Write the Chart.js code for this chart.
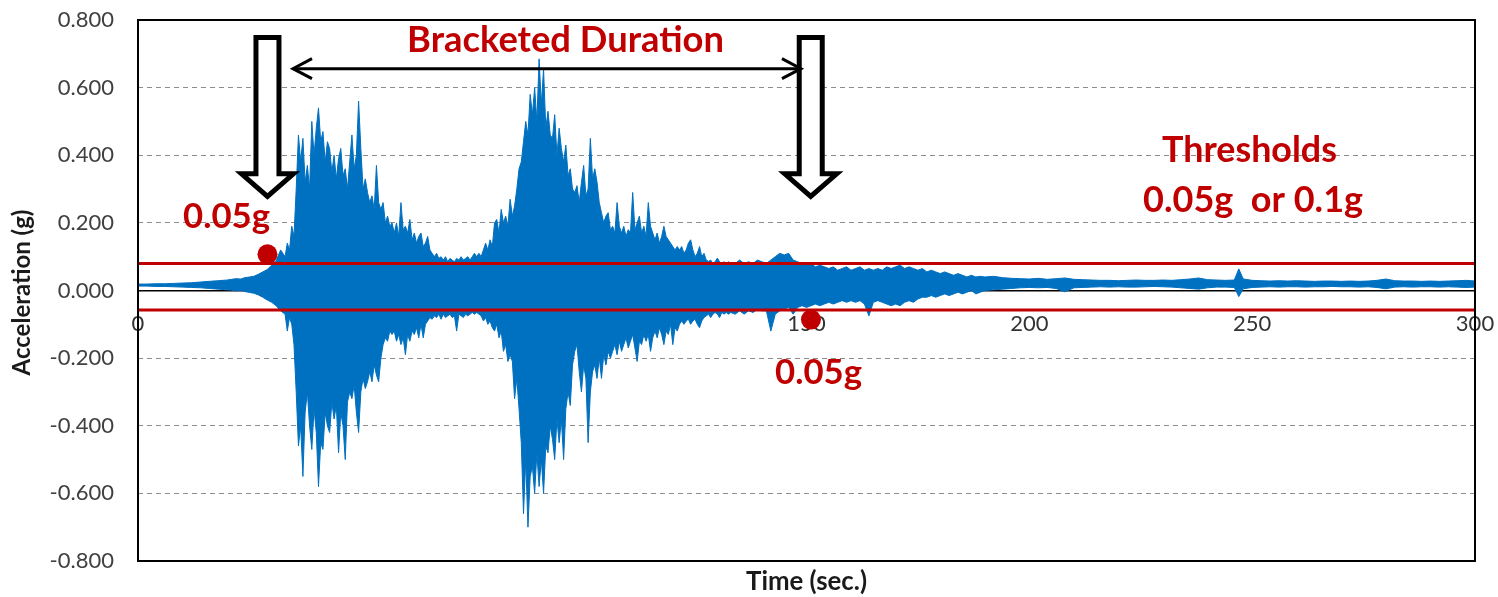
<!DOCTYPE html>
<html>
<head>
<meta charset="utf-8">
<script src="https://cdn.jsdelivr.net/npm/chart.js@4/dist/chart.umd.min.js"></script>
<style>
html,body{margin:0;padding:0;background:#fff;}
#wrap{width:1498px;height:597px;position:relative;}
</style>
</head>
<body>
<div id="wrap"><canvas id="c"></canvas></div>
<script>
// ---------- DATA ----------
// time (sec.) of each envelope sample
const time = [
  0,2,4,6,8,10,12,14,16,18,20,21,22,23,24,25,26,27,28,29,30,31,32,33,
  33.5,34,34.5,35,35.5,36,36.5,37,37.5,38,
  38.5,39,39.5,40,40.5,41,41.5,42,42.5,43,
  43.5,44,44.5,45,45.5,46,46.5,47,47.5,48,
  48.5,49,49.5,50,50.5,51,51.5,52,52.5,53,
  53.5,54,54.5,55,55.5,56,56.5,57,57.5,58,
  58.5,59,59.5,60,60.5,61,61.5,62,62.5,63,
  63.5,64,64.5,65,65.5,66,66.5,67,67.5,68,
  68.5,69,69.5,70,70.5,71,71.5,72,72.5,73,
  73.5,74,74.5,75,75.5,76,76.5,77,77.5,78,
  78.5,79,79.5,80,80.5,81,81.5,82,82.5,83,
  83.5,84,84.5,85,85.5,86,86.5,87,87.5,88,
  88.5,89,89.5,90,90.5,91,91.5,92,92.5,93,
  93.5,94,94.5,95,95.5,96,96.5,97,97.5,98,
  98.5,99,99.5,100,100.5,101,101.5,102,102.5,103,
  103.5,104,104.5,105,105.5,106,106.5,107,107.5,108,
  108.5,109,109.5,110,110.5,111,111.5,112,112.5,113,
  113.5,114,114.5,115,115.5,116,116.5,117,117.5,118,
  118.5,119,119.5,120,120.5,121,121.5,122,122.5,123,
  123.5,124,124.5,125,125.5,126,126.5,127,127.5,128,
  128.5,129,129.5,130,130.5,131,131.5,132,132.5,133,
  134,135,136,137,138,139,140,141,142,143,
  144,145,146,147,148,149,150,151,152,153,
  154,155,156,157,158,159,160,161,162,163,
  164,165,166,167,168,169,170,171,172,173,
  174,175,176,177,178,179,180,181,182,183,
  184,185,186,187,188,189,190,
  192,194,196,198,200,202,204,206,208,210,212,214,216,218,220,222,224,226,228,230,
  232,234,236,238,240,242,244,246,247,248,
  250,252,254,256,258,260,262,264,266,268,270,272,274,276,278,280,282,284,286,288,
  290,292,294,296,298,300
];
// upper envelope of the acceleration record (g)
const upper = [
  0.019,0.019,0.02,0.02,0.021,0.022,0.023,0.025,0.027,0.029,0.031,0.033,0.035,0.034,0.038,0.040,0.042,0.048,0.055,0.062,0.075,0.088,0.12,0.10,
  0.14,0.12,0.19,0.16,0.30,0.46,0.38,0.45,0.32,0.37,
  0.30,0.50,0.40,0.48,0.54,0.44,0.47,0.38,0.44,0.42,
  0.35,0.40,0.33,0.39,0.42,0.34,0.36,0.30,0.38,0.46,
  0.36,0.40,0.56,0.42,0.30,0.33,0.29,0.26,0.28,0.24,
  0.37,0.26,0.24,0.26,0.20,0.22,0.19,0.20,0.17,0.20,
  0.16,0.26,0.18,0.19,0.17,0.21,0.15,0.17,0.14,0.16,
  0.17,0.13,0.14,0.16,0.12,0.11,0.10,0.11,0.095,0.10,
  0.09,0.10,0.085,0.095,0.09,0.085,0.095,0.09,0.10,0.09,
  0.095,0.10,0.09,0.10,0.11,0.10,0.11,0.10,0.12,0.14,
  0.12,0.15,0.13,0.20,0.21,0.17,0.24,0.20,0.22,0.19,
  0.27,0.22,0.25,0.30,0.36,0.38,0.44,0.50,0.46,0.58,
  0.52,0.60,0.50,0.685,0.55,0.655,0.48,0.53,0.46,0.45,
  0.52,0.40,0.48,0.42,0.38,0.43,0.34,0.36,0.30,0.29,
  0.31,0.26,0.32,0.37,0.28,0.30,0.45,0.33,0.36,0.32,
  0.26,0.23,0.20,0.22,0.23,0.18,0.19,0.17,0.26,0.19,
  0.17,0.19,0.16,0.18,0.17,0.29,0.18,0.20,0.22,0.17,
  0.19,0.16,0.26,0.19,0.17,0.15,0.17,0.14,0.16,0.19,
  0.16,0.15,0.14,0.13,0.12,0.13,0.12,0.13,0.11,0.12,
  0.14,0.15,0.12,0.10,0.11,0.13,0.10,0.11,0.09,0.086,
  0.09,0.08,0.085,0.096,0.085,0.08,0.085,0.08,0.085,0.08,
  0.08,0.09,0.08,0.085,0.08,0.09,0.085,0.08,0.09,0.10,
  0.11,0.105,0.11,0.09,0.085,0.08,0.075,0.08,0.07,0.075,
  0.07,0.065,0.07,0.06,0.065,0.07,0.06,0.065,0.07,0.06,
  0.065,0.06,0.065,0.06,0.07,0.065,0.07,0.075,0.065,0.07,
  0.065,0.06,0.065,0.055,0.06,0.055,0.05,0.055,0.05,0.045,
  0.05,0.045,0.04,0.045,0.04,0.042,0.04,
  0.042,0.038,0.036,0.035,0.034,0.036,0.033,0.035,0.037,0.033,0.032,0.031,0.03,0.03,0.029,0.03,0.031,0.03,0.03,0.031,
  0.03,0.032,0.034,0.037,0.032,0.031,0.03,0.031,0.064,0.034,
  0.03,0.029,0.028,0.029,0.028,0.029,0.028,0.027,0.028,0.028,0.027,0.028,0.027,0.028,0.03,0.034,0.029,0.028,0.028,0.027,
  0.028,0.027,0.028,0.029,0.03,0.028
];
// lower envelope of the acceleration record (g)
const lower = [
  0.013,0.013,0.012,0.012,0.011,0.010,0.009,0.008,0.006,0.004,0.002,0.001,-0.001,0.000,-0.003,-0.006,-0.008,-0.013,-0.02,-0.028,-0.035,-0.045,-0.06,-0.07,
  -0.12,-0.08,-0.10,-0.16,-0.30,-0.46,-0.40,-0.55,-0.36,-0.30,
  -0.40,-0.47,-0.35,-0.42,-0.58,-0.45,-0.47,-0.36,-0.40,-0.42,
  -0.33,-0.38,-0.34,-0.48,-0.36,-0.40,-0.50,-0.33,-0.30,-0.32,
  -0.28,-0.36,-0.42,-0.30,-0.26,-0.29,-0.27,-0.24,-0.27,-0.22,
  -0.25,-0.27,-0.20,-0.16,-0.14,-0.15,-0.12,-0.13,-0.12,-0.15,
  -0.13,-0.16,-0.14,-0.19,-0.13,-0.15,-0.12,-0.13,-0.11,-0.14,
  -0.10,-0.14,-0.10,-0.09,-0.08,-0.085,-0.075,-0.08,-0.07,-0.085,
  -0.07,-0.08,-0.075,-0.07,-0.08,-0.075,-0.12,-0.07,-0.075,-0.08,
  -0.07,-0.075,-0.07,-0.065,-0.07,-0.065,-0.07,-0.075,-0.09,-0.08,
  -0.10,-0.09,-0.11,-0.12,-0.10,-0.14,-0.12,-0.18,-0.16,-0.21,
  -0.19,-0.21,-0.32,-0.26,-0.35,-0.45,-0.66,-0.50,-0.70,-0.55,
  -0.52,-0.60,-0.48,-0.58,-0.50,-0.60,-0.46,-0.48,-0.40,-0.44,
  -0.50,-0.38,-0.45,-0.38,-0.50,-0.35,-0.30,-0.34,-0.22,-0.18,
  -0.16,-0.24,-0.30,-0.22,-0.26,-0.45,-0.30,-0.24,-0.22,-0.26,
  -0.20,-0.26,-0.19,-0.22,-0.18,-0.20,-0.18,-0.16,-0.19,-0.15,
  -0.18,-0.16,-0.14,-0.17,-0.15,-0.13,-0.17,-0.21,-0.15,-0.16,
  -0.13,-0.15,-0.13,-0.18,-0.14,-0.12,-0.14,-0.11,-0.13,-0.16,
  -0.12,-0.13,-0.10,-0.16,-0.11,-0.12,-0.10,-0.09,-0.10,-0.09,
  -0.085,-0.10,-0.09,-0.085,-0.10,-0.11,-0.09,-0.08,-0.075,-0.07,
  -0.08,-0.07,-0.065,-0.07,-0.08,-0.065,-0.07,-0.065,-0.07,-0.065,
  -0.07,-0.06,-0.07,-0.06,-0.065,-0.055,-0.06,-0.06,-0.12,-0.07,
  -0.06,-0.055,-0.05,-0.07,-0.05,-0.045,-0.05,-0.045,-0.04,-0.045,
  -0.04,-0.035,-0.04,-0.035,-0.03,-0.035,-0.03,-0.035,-0.03,-0.04,
  -0.075,-0.035,-0.03,-0.035,-0.04,-0.045,-0.04,-0.045,-0.035,-0.03,
  -0.035,-0.025,-0.02,-0.02,-0.015,-0.02,-0.015,-0.01,-0.015,-0.01,
  -0.005,-0.01,-0.005,0.0,-0.01,-0.005,0.0,
  0.002,0.004,0.006,0.008,0.009,0.008,0.009,0.006,-0.004,0.008,0.009,0.01,0.011,0.01,0.011,0.01,0.01,0.011,0.012,0.011,
  0.01,0.008,0.006,0.004,0.008,0.01,0.01,0.009,-0.018,0.005,
  0.009,0.01,0.011,0.01,0.011,0.011,0.01,0.011,0.011,0.012,0.011,0.011,0.01,0.011,0.009,0.005,0.01,0.011,0.01,0.011,
  0.011,0.01,0.011,0.01,0.009,0.01
];
// threshold levels (g) drawn as horizontal lines across the record
const thresholdLevels = [0.08, -0.058];
const timeRange = [0, 300];
// first and last exceedance points
const exceedTime = [29.05, 151.0];
const exceedAccel = [0.107, -0.086];
// axis ticks
const xTicks = [0, 50, 100, 150, 200, 250, 300];
const yTicks = [-0.8, -0.6, -0.4, -0.2, 0, 0.2, 0.4, 0.6, 0.8];

if (time.length !== upper.length || time.length !== lower.length) {
  console.error('length mismatch', time.length, upper.length, lower.length);
}

// ---------- ANNOTATION LAYOUT (data-space anchors) ----------
const RED = '#C00000';
const BLUE = '#0070C0';
const FONT = 'Lato';
const downArrows = [29.05, 150.95];           // x (sec) of open down arrows
const arrowLevels = {top: 0.748, base: 0.345, tip: 0.278};
const bracket = {from: 34.55, to: 148.98, level: 0.656};
const labels = [
  {text: 'Bracketed Duration', t: 95.92, v: 0.705, w: 317},
  {text: 'Thresholds', t: 249.4, v: 0.379, w: 175},
  {text: '0.05g  or 0.1g', t: 250.2, v: 0.232, w: 220},
  {text: '0.05g', t: 19.86, v: 0.184, w: 87},
  {text: '0.05g', t: 152.7, v: -0.2756, w: 87}
];

function fitFont(ctx, text, w) {
  ctx.font = 'bold 100px ' + FONT;
  const m = ctx.measureText(text).width;
  return 100 * w / m;
}

const annot = {
  id: 'annot',
  afterDatasetsDraw(chart) {
    const {ctx, scales: {x, y}} = chart;
    ctx.save();
    // open down arrows
    for (const t of downArrows) {
      const cx = x.getPixelForValue(t);
      const top = y.getPixelForValue(arrowLevels.top);
      const base = y.getPixelForValue(arrowLevels.base);
      const tip = y.getPixelForValue(arrowLevels.tip);
      const sw = 11.5, hw = 26;
      ctx.beginPath();
      ctx.moveTo(cx - sw, top);
      ctx.lineTo(cx + sw, top);
      ctx.lineTo(cx + sw, base);
      ctx.lineTo(cx + hw, base);
      ctx.lineTo(cx, tip);
      ctx.lineTo(cx - hw, base);
      ctx.lineTo(cx - sw, base);
      ctx.closePath();
      ctx.fillStyle = '#fff';
      ctx.fill();
      ctx.lineWidth = 5;
      ctx.lineJoin = 'miter';
      ctx.strokeStyle = '#000';
      ctx.stroke();
    }
    // double-headed bracket arrow
    const bx1 = x.getPixelForValue(bracket.from);
    const bx2 = x.getPixelForValue(bracket.to);
    const by = y.getPixelForValue(bracket.level);
    ctx.strokeStyle = '#000';
    ctx.lineWidth = 3;
    ctx.lineJoin = 'miter';
    ctx.lineCap = 'butt';
    ctx.beginPath();
    ctx.moveTo(bx1 + 1, by); ctx.lineTo(bx2 - 1, by);
    ctx.stroke();
    ctx.beginPath();
    ctx.moveTo(bx1 + 20, by - 10); ctx.lineTo(bx1 + 1, by); ctx.lineTo(bx1 + 20, by + 10);
    ctx.moveTo(bx2 - 20, by - 10); ctx.lineTo(bx2 - 1, by); ctx.lineTo(bx2 - 20, by + 10);
    ctx.stroke();
    // red labels
    ctx.fillStyle = RED;
    ctx.textAlign = 'center';
    ctx.textBaseline = 'alphabetic';
    for (const l of labels) {
      const size = fitFont(ctx, l.text, l.w);
      ctx.font = 'bold ' + size.toFixed(2) + 'px ' + FONT;
      ctx.fillText(l.text, x.getPixelForValue(l.t), y.getPixelForValue(l.v));
    }
    ctx.restore();
  },
  afterDraw(chart) {
    const {ctx, chartArea: a} = chart;
    ctx.save();
    // frame of plot area
    ctx.strokeStyle = '#000';
    ctx.lineWidth = 2;
    ctx.strokeRect(a.left, a.top, a.right - a.left, a.bottom - a.top);
    // axis titles
    ctx.fillStyle = '#1a1a1a';
    ctx.textAlign = 'center';
    ctx.textBaseline = 'alphabetic';
    ctx.font = 'bold ' + fitFont(ctx, 'Time (sec.)', 121).toFixed(2) + 'px ' + FONT;
    ctx.fillText('Time (sec.)', (a.left + a.right) / 2, a.bottom + 29);
    ctx.font = 'bold ' + fitFont(ctx, 'Acceleration (g)', 166).toFixed(2) + 'px ' + FONT;
    ctx.translate(30, (a.top + a.bottom) / 2 + 2);
    ctx.rotate(-Math.PI / 2);
    ctx.fillText('Acceleration (g)', 0, 0);
    ctx.restore();
  }
};

function build() {
  const sigUpper = time.map((t, i) => ({x: t, y: upper[i]}));
  const sigLower = time.map((t, i) => ({x: t, y: lower[i]}));
  const thrLines = thresholdLevels.map(v => timeRange.map(t => ({x: t, y: v})));
  const exceedPts = exceedTime.map((t, i) => ({x: t, y: exceedAccel[i]}));

  new Chart(document.getElementById('c'), {
    type: 'line',
    data: {
      datasets: [
        {data: sigUpper, borderColor: BLUE, backgroundColor: BLUE, borderWidth: 1,
         pointRadius: 0, fill: '+1', tension: 0, order: 3},
        {data: sigLower, borderColor: BLUE, backgroundColor: BLUE, borderWidth: 1,
         pointRadius: 0, fill: false, tension: 0, order: 3},
        {data: thrLines[0], borderColor: RED, borderWidth: 3, pointRadius: 0, fill: false, order: 2},
        {data: thrLines[1], borderColor: RED, borderWidth: 3, pointRadius: 0, fill: false, order: 2},
        {data: exceedPts, showLine: false, pointRadius: 10, pointHoverRadius: 10,
         pointBackgroundColor: RED, pointBorderWidth: 0, borderColor: RED, order: 1}
      ]
    },
    options: {
      responsive: true,
      maintainAspectRatio: false,
      animation: false,
      devicePixelRatio: 1,
      events: [],
      layout: {padding: {left: 0, right: 23, top: 20, bottom: 36}},
      plugins: {legend: {display: false}, tooltip: {enabled: false}, title: {display: false}},
      scales: {
        x: {
          type: 'linear',
          position: {y: 0},
          min: timeRange[0], max: timeRange[1],
          afterBuildTicks: s => { s.ticks = xTicks.map(v => ({value: v})); },
          afterFit: s => { s.paddingLeft = 0; s.paddingRight = 0; },
          ticks: {font: {family: FONT, size: 22}, color: '#333', padding: 20, maxRotation: 0,
                  callback: v => String(v)},
          grid: {display: false, drawTicks: false},
          border: {display: true, color: '#000', width: 1.5}
        },
        y: {
          type: 'linear',
          min: yTicks[0], max: yTicks[yTicks.length - 1],
          afterBuildTicks: s => { s.ticks = yTicks.map(v => ({value: v})); },
          afterFit: s => { s.width = 138; s.paddingTop = 0; s.paddingBottom = 0; },
          ticks: {font: {family: FONT, size: 22}, color: '#404040', padding: 24,
                  callback: v => (Math.abs(v) < 1e-9 ? 0 : v).toFixed(3)},
          grid: {drawTicks: false, lineWidth: 1,
                 color: c => (c.tick && Math.abs(c.tick.value) < 1e-9) ? 'rgba(0,0,0,0)' : '#8c8c8c'},
          border: {display: false, dash: [5, 4]}
        }
      }
    },
    plugins: [annot]
  });
}

Promise.all([
  document.fonts.load('bold 20px ' + FONT),
  document.fonts.load('20px ' + FONT)
]).then(build, build);
</script>
</body>
</html>
